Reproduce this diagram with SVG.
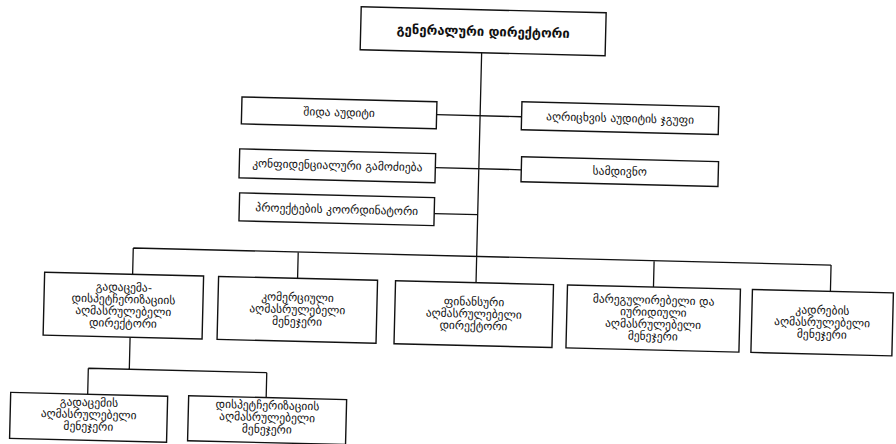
<svg xmlns="http://www.w3.org/2000/svg" width="896" height="444" viewBox="0 0 896 444">
<style>
.box{fill:#fff;stroke:#111;stroke-width:1.4}
.ln{fill:none;stroke:#111;stroke-width:1.3}
text{font-family:"DejaVu Sans","Noto Sans",sans-serif;font-size:11.5px;fill:#111;text-anchor:middle}
.big{font-size:13px;font-weight:bold}
</style>
<rect width="896" height="444" fill="#fff"/>
<g transform="rotate(1.4 448 222)">
<g id="connectors">
<path class="ln" d="M477.5 52V282 M134 255.7H832 M134 255.7V282 M299 255.7V282 M655 255.7V282 M832 255.7V282 M133 345V377 M92 377H270.5 M92 377V403 M270.5 377V402 M434 115H519 M434 168H520 M434 214H477.5"/>
</g>
<g id="n-general-director">
<rect class="box" x="356" y="9" width="245" height="43"/>
<text class="big" x="478.5" y="35">გენერალური დირექტორი</text>
</g>
<g id="n-internal-audit">
<rect class="box" x="239" y="102" width="195" height="27"/>
<text x="336.5" y="119">შიდა აუდიტი</text>
</g>
<g id="n-accounting-audit">
<rect class="box" x="519" y="100" width="197" height="28"/>
<text x="617.5" y="118">აღრიცხვის აუდიტის ჯგუფი</text>
</g>
<g id="n-confidential">
<rect class="box" x="238" y="154" width="196" height="29"/>
<text x="336" y="172">კონფიდენციალური გამოძიება</text>
</g>
<g id="n-secretariat">
<rect class="box" x="520" y="155" width="197" height="25"/>
<text x="618.5" y="171">სამდივნო</text>
</g>
<g id="n-project-coord">
<rect class="box" x="239" y="198" width="195" height="28"/>
<text x="336.5" y="216">პროექტების კოორდინატორი</text>
</g>
<g id="n-transmission-dispatch">
<rect class="box" x="46" y="282" width="159" height="63"/>
<text x="125.5" y="299">გადაცემა-</text>
<text x="125.5" y="311">დისპეტჩერიზაციის</text>
<text x="125.5" y="323">აღმასრულებელი</text>
<text x="125.5" y="335">დირექტორი</text>
</g>
<g id="n-commercial">
<rect class="box" x="220" y="282" width="159" height="63"/>
<text x="299.5" y="305">კომერციული</text>
<text x="299.5" y="317">აღმასრულებელი</text>
<text x="299.5" y="329">მენეჯერი</text>
</g>
<g id="n-finance">
<rect class="box" x="397" y="282" width="158" height="63"/>
<text x="476" y="305">ფინანსური</text>
<text x="476" y="317">აღმასრულებელი</text>
<text x="476" y="329">დირექტორი</text>
</g>
<g id="n-regulatory-legal">
<rect class="box" x="569" y="282" width="173" height="63"/>
<text x="655.5" y="299">მარეგულირებელი და</text>
<text x="655.5" y="311">იურიდიული</text>
<text x="655.5" y="323">აღმასრულებელი</text>
<text x="655.5" y="335">მენეჯერი</text>
</g>
<g id="n-hr">
<rect class="box" x="754" y="282" width="141" height="63"/>
<text x="824.5" y="305">კადრების</text>
<text x="824.5" y="317">აღმასრულებელი</text>
<text x="824.5" y="329">მენეჯერი</text>
</g>
<g id="n-transmission">
<rect class="box" x="15" y="403" width="157" height="46"/>
<text x="93.5" y="415">გადაცემის</text>
<text x="93.5" y="427">აღმასრულებელი</text>
<text x="93.5" y="439">მენეჯერი</text>
</g>
<g id="n-dispatch">
<rect class="box" x="193" y="402" width="158" height="45"/>
<text x="272" y="413.5">დისპეტჩერიზაციის</text>
<text x="272" y="425.5">აღმასრულებელი</text>
<text x="272" y="437.5">მენეჯერი</text>
</g>
</g>
</svg>
